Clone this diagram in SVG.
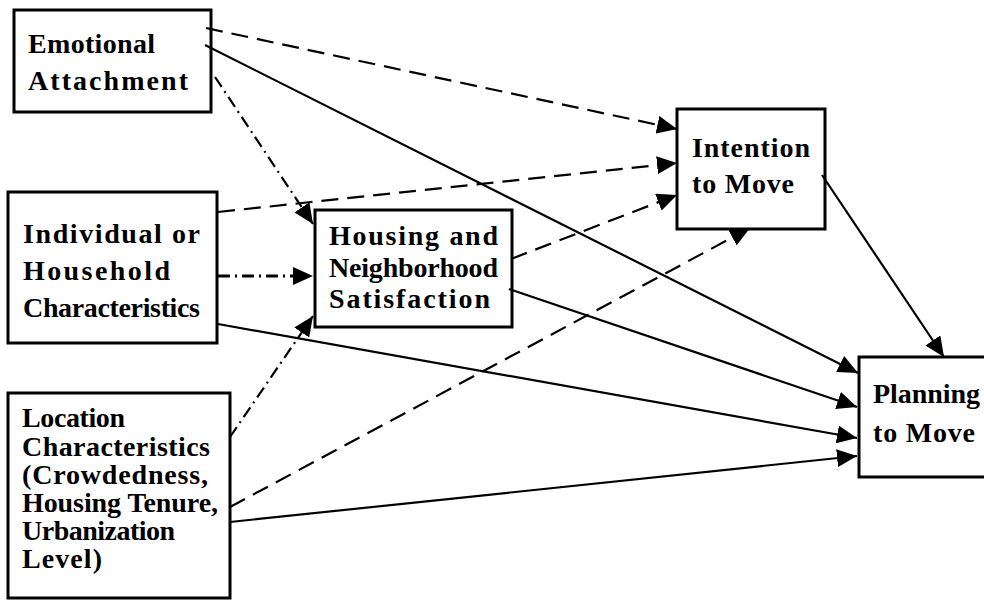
<svg xmlns="http://www.w3.org/2000/svg" width="984" height="608" viewBox="0 0 984 608">
<style>
.box{fill:#fff;stroke:#000;stroke-width:3}
.t{font-family:"Liberation Serif","Times New Roman",serif;font-weight:bold;font-size:28px;fill:#000}
.c{fill:none;stroke:#000;stroke-width:2.2}
.dash{stroke-dasharray:17 9}
.dd{stroke-dasharray:12 5 2 5}
.thick{stroke-width:3}
</style>
<defs>
<marker id="ah" markerUnits="userSpaceOnUse" markerWidth="20" markerHeight="18" refX="20" refY="9" orient="auto">
<path d="M0,0 L20,9 L0,18 z" fill="#000"/>
</marker>
</defs>
<rect width="984" height="608" fill="#fff"/>
<g id="emotional">
<rect class="box" x="14" y="10" width="197" height="102"/>
<text class="t" x="28" y="53" textLength="127" lengthAdjust="spacing">Emotional</text>
<text class="t" x="28" y="90" textLength="160" lengthAdjust="spacing">Attachment</text>
</g>
<g id="individual">
<rect class="box" x="8" y="192" width="209" height="151"/>
<text class="t" x="23" y="243" textLength="177" lengthAdjust="spacing">Individual or</text>
<text class="t" x="23" y="280" textLength="147" lengthAdjust="spacing">Household</text>
<text class="t" x="23" y="317" textLength="177" lengthAdjust="spacing">Characteristics</text>
</g>
<g id="location">
<rect class="box" x="8" y="393" width="222" height="205"/>
<text class="t" x="22" y="427" textLength="103" lengthAdjust="spacing">Location</text>
<text class="t" x="22" y="456" textLength="188" lengthAdjust="spacing">Characteristics</text>
<text class="t" x="22" y="484" textLength="186" lengthAdjust="spacing">(Crowdedness,</text>
<text class="t" x="22" y="512" textLength="196" lengthAdjust="spacing">Housing Tenure,</text>
<text class="t" x="22" y="540" textLength="153" lengthAdjust="spacing">Urbanization</text>
<text class="t" x="22" y="568" textLength="80" lengthAdjust="spacing">Level)</text>
</g>
<g id="housing">
<rect class="box" x="315" y="210" width="197" height="117"/>
<text class="t" x="329" y="245" textLength="169" lengthAdjust="spacing">Housing and</text>
<text class="t" x="329" y="277" textLength="169" lengthAdjust="spacing">Neighborhood</text>
<text class="t" x="329" y="308" textLength="161" lengthAdjust="spacing">Satisfaction</text>
</g>
<g id="intention">
<rect class="box" x="677" y="109" width="148" height="120"/>
<text class="t" x="692" y="157" textLength="118" lengthAdjust="spacing">Intention</text>
<text class="t" x="692" y="193" textLength="102" lengthAdjust="spacing">to Move</text>
</g>
<g id="planning">
<rect class="box" x="859" y="357" width="140" height="120"/>
<text class="t" x="873" y="403" textLength="107" lengthAdjust="spacing">Planning</text>
<text class="t" x="873" y="442" textLength="102" lengthAdjust="spacing">to Move</text>
</g>
<g id="connectors">
<path class="c dash" d="M206,28 L677,129" marker-end="url(#ah)"/>
<path class="c" d="M205,45 L858,373" marker-end="url(#ah)"/>
<path class="c dd" d="M215,77 L313,224" marker-end="url(#ah)"/>
<path class="c dash" d="M218,212 L677,163" marker-end="url(#ah)"/>
<path class="c dd thick" d="M218,276 L313,276" marker-end="url(#ah)"/>
<path class="c" d="M218,324 L857,438" marker-end="url(#ah)"/>
<path class="c dd" d="M230,437 L313,316" marker-end="url(#ah)"/>
<path class="c dash" d="M230,507 L750,228" marker-end="url(#ah)"/>
<path class="c" d="M230,522 L857,456" marker-end="url(#ah)"/>
<path class="c dash" d="M511,259 L677,195" marker-end="url(#ah)"/>
<path class="c" d="M509,289 L857,407" marker-end="url(#ah)"/>
<path class="c" d="M822,175 L944,357" marker-end="url(#ah)"/>
</g>
</svg>
